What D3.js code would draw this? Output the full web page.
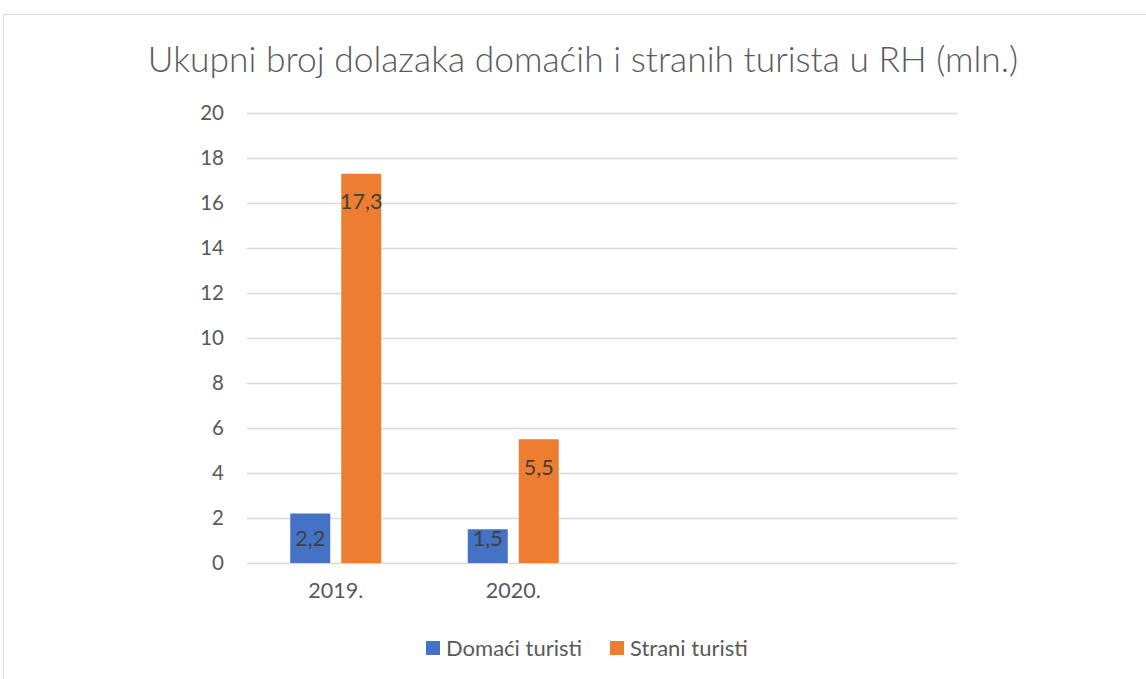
<!DOCTYPE html>
<html>
<head>
<meta charset="utf-8">
<script src="https://cdn.jsdelivr.net/npm/d3@7"></script>
<style>
  body { margin: 0; background: #fff; }
  svg { font-family: Lato, "Open Sans", sans-serif; }
</style>
</head>
<body>
<svg id="drawing_region"></svg>
<script>
const title = 'Ukupni broj dolazaka domaćih i stranih turista u RH (mln.)';
const categories = ['2019.', '2020.', '', ' '];
const seriesNames = ['Domaći turisti', 'Strani turisti'];
const domaci = [2.2, 1.5];
const strani = [17.3, 5.5];
const yTicks = [0, 2, 4, 6, 8, 10, 12, 14, 16, 18, 20];
const colors = ['#4472C4', '#ED7D31'];

const data = [];
[domaci, strani].forEach( (vals, si) => {
    vals.forEach( (v, ci) => data.push({ cat: categories[ci], series: seriesNames[si], value: v }) );
});

const width = 1146, height = 679;
const margin = {top: 113, left: 247, right: 189, bottom: 116};
const inner_width = width - margin.left - margin.right;
const inner_height = height - margin.top - margin.bottom;

const svg = d3.select('#drawing_region')
    .attr('width', width)
    .attr('height', height);

// chart frame
svg.append('rect')
    .attr('x', 3.5).attr('y', 14.5)
    .attr('width', 1160).attr('height', 700)
    .attr('fill', 'none')
    .attr('stroke', '#d9d9d9')
    .attr('stroke-width', 1);

svg.append('text')
    .attr('x', 583)
    .attr('y', 72)
    .attr('text-anchor', 'middle')
    .attr('fill', '#595959')
    .style('font-size', '35.4px')
    .style('font-weight', 300)
    .text(title);

const chart = svg.append('g')
    .attr('transform', `translate(${margin.left}, ${margin.top})`);

const xscale = d3.scaleBand()
    .domain(categories)
    .range([0, inner_width]);

const x1 = d3.scaleBand()
    .domain(seriesNames)
    .range([0, xscale.bandwidth()])
    .paddingInner(0.2157)
    .paddingOuter(0.848);

const yscale = d3.scaleLinear()
    .domain([0, 20])
    .range([inner_height, 0]);

// gridlines
const yaxis = d3.axisLeft(yscale)
    .tickValues(yTicks)
    .tickSize(-inner_width)
    .tickPadding(23);

const yaxis_group = chart.append('g').call(yaxis);
yaxis_group.select('.domain').remove();
yaxis_group.selectAll('line')
    .attr('stroke', '#d9d9d9')
    .attr('stroke-width', 1.5);
yaxis_group.selectAll('text')
    .attr('fill', '#595959')
    .style('font-size', '20.5px')
    .style('font-family', 'Lato, sans-serif');

const xaxis = d3.axisBottom(xscale)
    .tickSize(0)
    .tickPadding(20);

const xaxis_group = chart.append('g')
    .attr('transform', `translate(0, ${inner_height})`)
    .call(xaxis);
xaxis_group.select('.domain').remove();
xaxis_group.selectAll('text')
    .attr('fill', '#595959')
    .style('font-size', '21.5px')
    .style('font-family', 'Lato, sans-serif');

// bars
chart.selectAll('rect.bar')
    .data(data)
    .enter()
    .append('rect')
    .attr('class', 'bar')
    .attr('x', d => xscale(d.cat) + x1(d.series))
    .attr('y', d => yscale(d.value))
    .attr('width', x1.bandwidth())
    .attr('height', d => inner_height - yscale(d.value))
    .attr('fill', d => colors[seriesNames.indexOf(d.series)]);

// data labels
chart.selectAll('text.lbl')
    .data(data)
    .enter()
    .append('text')
    .attr('class', 'lbl')
    .attr('x', d => xscale(d.cat) + x1(d.series) + x1.bandwidth() / 2)
    .attr('y', d => Math.min(yscale(d.value) + 28, inner_height - 25))
    .attr('dy', '0.35em')
    .attr('text-anchor', 'middle')
    .attr('fill', '#404040')
    .style('font-size', '21.5px')
    .text(d => String(d.value).replace('.', ','));

// legend
const legend = svg.append('g')
    .attr('transform', 'translate(426, 641)');
const legendX = [0, 184];
seriesNames.forEach( (name, i) => {
    const g = legend.append('g').attr('transform', `translate(${legendX[i]}, 0)`);
    g.append('rect')
        .attr('width', 14).attr('height', 14)
        .attr('fill', colors[i]);
    g.append('text')
        .attr('x', 20).attr('y', 7)
        .attr('dy', '0.35em')
        .attr('fill', '#595959')
        .style('font-size', '22px')
        .text(name);
});
</script>
</body>
</html>
